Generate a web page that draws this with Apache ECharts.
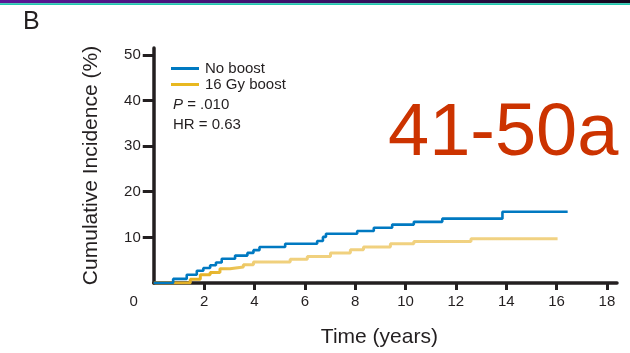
<!DOCTYPE html>
<html>
<head>
<meta charset="utf-8">
<script src="https://cdn.jsdelivr.net/npm/echarts@6/dist/echarts.min.js"></script>
<style>
  html, body { margin: 0; padding: 0; background: #ffffff; }
  #chart { width: 630px; height: 353px; }
</style>
</head>
<body>
<div id="chart"></div>
<script>
// Cumulative incidence step curves: [time in years, cumulative incidence %]
const seriesNames = ['No boost', '16 Gy boost'];
const noBoost = [
  [0, 0], [0.77, 0.9], [1.31, 1.8], [1.71, 2.7], [1.97, 3.3], [2.24, 3.9],
  [2.47, 4.5], [2.70, 5.3], [3.23, 6.0], [3.72, 6.6], [3.96, 7.2], [4.20, 7.9],
  [5.22, 8.6], [6.49, 9.2], [6.72, 10.1], [6.84, 10.8], [8.08, 11.4],
  [8.74, 12.1], [9.47, 12.8], [10.33, 13.4], [11.46, 14.1], [13.85, 15.6],
  [16.44, 15.6]
];
const boost16 = [
  [0, 0], [1.45, 0.8], [1.85, 1.8], [2.24, 2.3], [2.63, 3.1], [3.03, 3.5],
  [3.56, 4.0], [3.96, 4.6], [5.42, 5.2], [6.10, 5.8], [7.02, 6.6],
  [7.81, 7.3], [8.33, 7.9], [9.40, 8.6], [10.33, 9.1], [12.60, 9.7],
  [16.04, 9.7]
];
const xTickValues = [0, 2, 4, 6, 8, 10, 12, 14, 16, 18];
const yTickValues = [10, 20, 30, 40, 50];
const pValue = '.010';
const hazardRatio = '0.63';
const panelLetter = 'B';
const cohortLabel = '41-50a';

const ink = '#231f20';
const blue = '#0079c1';
const gold = '#e8b820';
const font = '"Liberation Sans", Arial, sans-serif';

const chart = echarts.init(document.getElementById('chart'), null, { renderer: 'canvas' });

chart.setOption({
  animation: false,
  backgroundColor: '#ffffff',
  grid: { left: 153.75, right: 13, top: 48, bottom: 69.7 },
  legend: {
    orient: 'vertical',
    left: 171,
    top: 61,
    padding: 0,
    icon: 'rect',
    itemWidth: 28,
    itemHeight: 3,
    itemGap: 1,
    textStyle: { fontFamily: font, fontSize: 15, color: ink, padding: [0, 0, 0, 1] },
    data: [
      { name: seriesNames[0], itemStyle: { color: blue } },
      { name: seriesNames[1], itemStyle: { color: gold } }
    ]
  },
  xAxis: {
    type: 'value',
    min: 0,
    max: 18.4,
    interval: 2,
    name: 'Time (years)',
    nameLocation: 'middle',
    nameGap: 44,
    nameTextStyle: { fontFamily: font, fontSize: 21, color: ink, padding: [0, 12, 0, 0] },
    splitLine: { show: false },
    axisLine: { show: true, onZero: false, lineStyle: { color: ink, width: 3.5 } },
    axisTick: { show: true, length: 7, customValues: xTickValues.filter(v => v > 0), lineStyle: { color: ink, width: 3 } },
    axisLabel: {
      customValues: xTickValues,
      margin: 11,
      fontFamily: font,
      fontSize: 15,
      color: ink,
      formatter: v => (v === 0 ? '{corner|0}' : String(v)),
      rich: { corner: { fontFamily: font, fontSize: 15, color: ink, padding: [0, 40, 0, 0] } }
    }
  },
  yAxis: {
    type: 'value',
    min: 0,
    max: 51.5,
    interval: 10,
    name: 'Cumulative Incidence (%)',
    nameLocation: 'middle',
    nameGap: 52,
    nameTextStyle: { fontFamily: font, fontSize: 21, color: ink },
    splitLine: { show: false },
    axisLine: { show: true, onZero: false, lineStyle: { color: ink, width: 3.5 } },
    axisTick: { show: true, length: 11, customValues: yTickValues, lineStyle: { color: ink, width: 3 } },
    axisLabel: { customValues: yTickValues, margin: 13, fontFamily: font, fontSize: 15, color: ink }
  },
  series: [
    {
      name: seriesNames[1],
      type: 'line',
      step: 'end',
      data: boost16,
      symbol: 'none',
      z: 3,
      lineStyle: {
        width: 3,
        color: new echarts.graphic.LinearGradient(0, 0, 1, 0, [
          { offset: 0, color: '#e0aa1c' },
          { offset: 0.15, color: '#e6b52c' },
          { offset: 0.26, color: '#f0d07c' },
          { offset: 1, color: '#f1d283' }
        ])
      },
      itemStyle: { color: gold }
    },
    {
      name: seriesNames[0],
      type: 'line',
      step: 'end',
      data: noBoost,
      symbol: 'none',
      z: 4,
      lineStyle: { width: 2.6, color: blue },
      itemStyle: { color: blue }
    }
  ],
  graphic: [
    {
      type: 'rect',
      shape: { x: 0, y: 0, width: 630, height: 3.3 },
      style: {
        fill: new echarts.graphic.LinearGradient(0, 0, 1, 0, [
          { offset: 0, color: '#5a1896' },
          { offset: 0.5, color: '#3a1066' },
          { offset: 1, color: '#12061a' }
        ])
      },
      silent: true
    },
    {
      type: 'rect',
      shape: { x: 0, y: 3.3, width: 630, height: 1.8 },
      style: { fill: '#1ec8ae' },
      silent: true
    },
    {
      type: 'text',
      x: 23, y: 22,
      style: { text: panelLetter, font: '25px ' + font, fill: ink, verticalAlign: 'middle' },
      silent: true
    },
    {
      type: 'text',
      x: 173, y: 105,
      style: {
        text: '{i|P} = ' + pValue,
        font: '15px ' + font,
        fill: ink,
        verticalAlign: 'middle',
        rich: { i: { fontStyle: 'italic', fontFamily: font, fontSize: 15, fill: ink } }
      },
      silent: true
    },
    {
      type: 'text',
      x: 173, y: 125,
      style: { text: 'HR = ' + hazardRatio, font: '15px ' + font, fill: ink, verticalAlign: 'middle' },
      silent: true
    },
    {
      type: 'text',
      x: 388, y: 135,
      style: { text: cohortLabel, font: '74px ' + font, fill: '#cc3300', verticalAlign: 'middle' },
      silent: true
    }
  ]
});
</script>
</body>
</html>
